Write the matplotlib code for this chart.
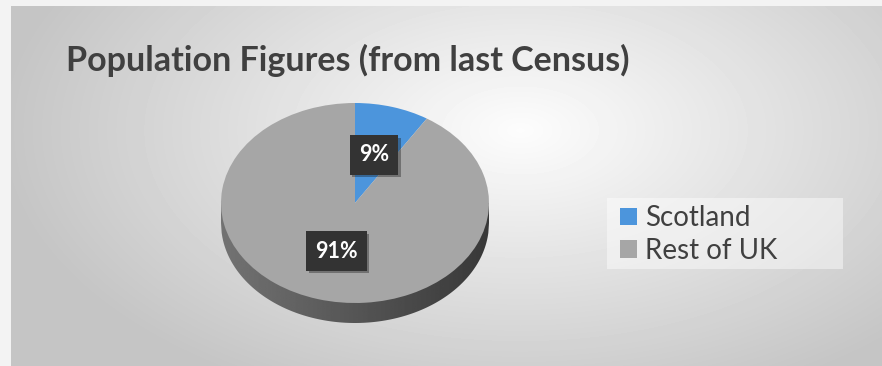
import matplotlib.pyplot as plt
import matplotlib.patheffects as pe
from matplotlib.patches import Polygon, Rectangle
import numpy as np

plt.rcParams["font.family"] = ["Lato", "DejaVu Sans"]

categories = ["Scotland", "Rest of UK"]
shares = [9, 91]
slice_colors = ["#4c95dc", "#a6a6a6"]

W, H = 882, 366
fig = plt.figure(figsize=(W / 100, H / 100), dpi=100)
fig.patch.set_facecolor("#f3f3f3")

# soft radial backdrop of the chart area
bg = fig.add_axes([11 / W, 0, 1 - 11 / W, (H - 6) / H])
bg.set_axis_off()
xx, yy = np.meshgrid(np.arange(11, W), np.arange(6, H))
d = np.sqrt(((xx - 520) / 500) ** 2 + ((yy - 130) / 280) ** 2)
shade = np.clip(0.99 - 0.21 * d, 0.77, 0.99)
bg.imshow(shade, cmap="gray", vmin=0, vmax=1, aspect="auto", interpolation="bilinear")

# pie axes: unit circle stretched to 134 x 100 px around (355, 203)
cx, cy, rx, ry = 355, 203, 134, 100
x0, x1, y0, y1 = 195, 515, 90, 345
ax = fig.add_axes([x0 / W, (H - y1) / H, (x1 - x0) / W, (y1 - y0) / H])

depth = 0.2
xs = np.linspace(-1, 1, 400)
rim = -np.sqrt(1 - xs ** 2)
side_pts = np.concatenate([np.column_stack([xs, rim - depth]),
                           np.column_stack([xs[::-1], np.zeros_like(xs)])])
side = Polygon(side_pts, closed=True, facecolor="none", edgecolor="none")
ax.add_patch(side)
grad = np.linspace(0.45, 0.22, 256)[None, :]
side_img = ax.imshow(grad, cmap="gray", vmin=0, vmax=1, aspect="auto",
                     extent=(-1, 1, -1 - depth, 0), zorder=1)
side_img.set_clip_path(side)

wedges, _, pct_texts = ax.pie(
    shares,
    colors=slice_colors,
    startangle=90,
    counterclock=False,
    autopct=lambda p: f"{p:.0f}%",
    pctdistance=0.5,
    wedgeprops=dict(linewidth=0, zorder=2),
    textprops=dict(color="white", fontsize=15.5, fontweight="bold"),
)
for w in wedges:
    w.set_zorder(2)
for t in pct_texts:
    t.set_zorder(5)
    t.set_bbox(dict(boxstyle="square,pad=0.42", facecolor="#333333", edgecolor="none"))
    t.get_bbox_patch().set_path_effects(
        [pe.SimplePatchShadow(offset=(2, -2), alpha=0.35), pe.Normal()]
    )

ax.set_aspect("auto")
ax.set_xlim((x0 - cx) / rx, (x1 - cx) / rx)
ax.set_ylim((cy - y1) / ry, (cy - y0) / ry)
ax.set_axis_off()

fig.text(66 / W, 1 - 60 / H, "Population Figures (from last Census)",
         fontsize=24.5, fontweight="bold", color="#404040", va="center", ha="left")

# pale panel behind the legend
fig.patches.append(Rectangle((607 / W, (H - 269) / H), 236 / W, 71 / H,
                             transform=fig.transFigure, facecolor="white",
                             alpha=0.45, edgecolor="none", zorder=3))

leg = fig.legend(
    wedges, categories,
    loc="upper left", bbox_to_anchor=(614 / W, 1 - 199 / H),
    frameon=False, fontsize=20,
    handlelength=0.6, handleheight=0.6, handletextpad=0.3,
    labelspacing=0.25, borderpad=0.22, borderaxespad=0,
)
leg.set_zorder(4)
for txt in leg.get_texts():
    txt.set_color("#404040")

fig.savefig("out.png", dpi=100, facecolor=fig.get_facecolor())
